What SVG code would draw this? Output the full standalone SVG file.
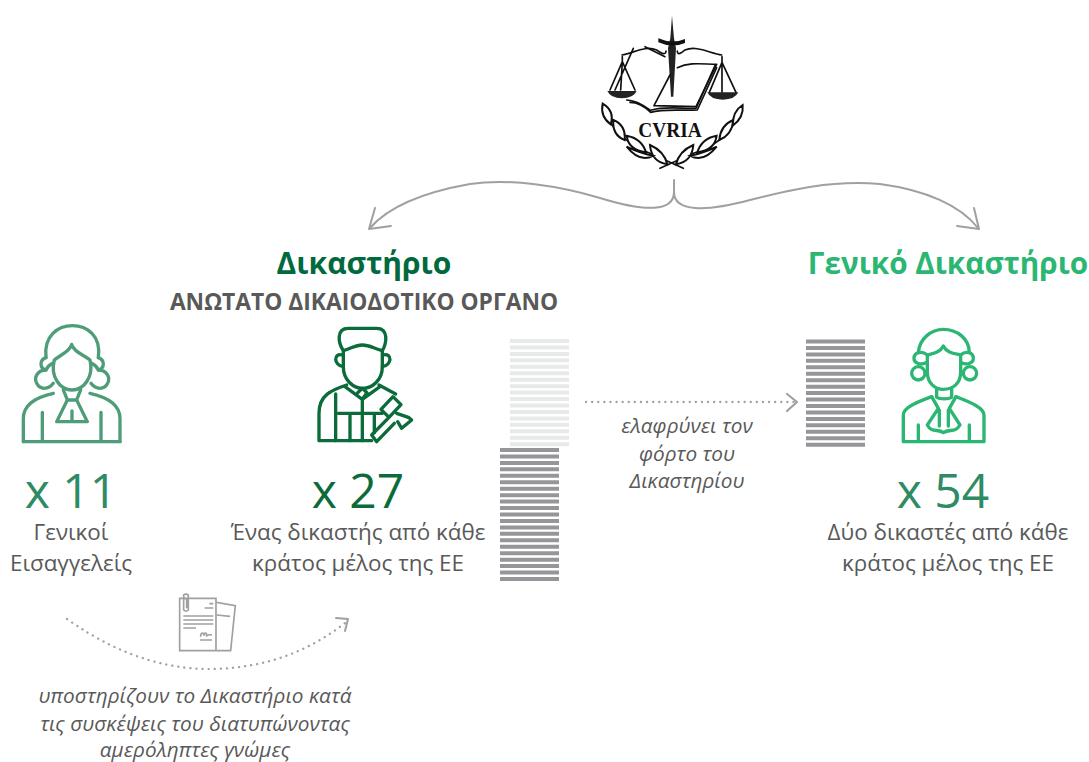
<svg xmlns="http://www.w3.org/2000/svg" width="1089" height="762" viewBox="0 0 1089 762">
<style>
text{font-family:"Open Sans","Noto Sans","DejaVu Sans",sans-serif;text-anchor:middle;fill:#595959}
.lab{font-size:22.400px}
.it{font-size:20.800px;font-style:italic}
.num{font-size:48px}
.ic{fill:none;stroke-width:10;stroke-linecap:round;stroke-linejoin:round}
.cr{fill:none;stroke:#111;stroke-width:5;stroke-linejoin:round;stroke-linecap:round}
.gr{fill:none;stroke:#a0a0a0;stroke-linecap:round;stroke-linejoin:round}
.dot{fill:none;stroke:#a0a0a0;stroke-width:2.300;stroke-dasharray:.1 6;stroke-linecap:round}
</style>
<rect width="1089" height="762" fill="#fff"/>
<g id="curia" transform="translate(590 5) scale(.3333)">
<path d="M246 32L252 100L258 130L250 275H243L234 130L241 100Z" fill="#222"/>
<path d="M205 100Q245 118 285 102L285 114Q245 130 205 112Z" fill="#111"/>
<path class="cr" stroke-width="6" d="M96 150C130 145 165 120 200 135Q228 155 228 138M395 150C360 145 320 120 285 135Q262 155 262 138"/>
<path class="cr" d="M165 125L225 155M97 155V170L60 255M97 170L135 255M97 170L92 255M130 130L75 255"/>
<path d="M52 258H140Q130 280 96 280Q62 280 52 258Z" fill="#222"/>
<path class="cr" d="M396 155V172L358 262M396 172L438 262M396 172V262"/>
<path d="M352 262H445Q435 284 398 284Q362 284 352 262Z" fill="#222"/>
<path class="cr" d="M262 188C300 170 340 178 380 178L318 305L192 302L240 210"/>
<path class="cr" d="M110 285C135 285 160 300 182 316C225 302 280 312 318 310L375 182M120 292C145 292 165 305 182 322C225 310 280 318 322 315L380 188"/>
<text x="240" y="395" textLength="190" lengthAdjust="spacingAndGlyphs" style="font-family:'Liberation Serif',serif;font-size:62px;font-weight:700;fill:#111">CVRIA</text>
<path class="cr" d="M40 300C50 360 110 420 180 445L280 490M455 305C440 370 380 425 310 445L210 490"/>
<path d="M38 296Q75 318 62 358Q30 335 38 296ZM70 345Q108 360 104 405Q66 390 70 345ZM110 392Q155 400 168 442Q115 435 110 392ZM180 420Q222 438 232 478Q184 470 180 420ZM110 425Q150 445 190 452Q150 475 110 425ZM458 300Q428 318 428 362Q462 338 458 300ZM430 345Q392 360 388 405Q426 390 430 345ZM380 392Q335 400 322 442Q375 435 380 392ZM310 420Q268 438 258 478Q306 470 310 420ZM380 425Q340 445 300 452Q340 475 380 425Z" fill="#fff" stroke="#111" stroke-width="6"/>
</g>
<g id="connectors">
<path class="gr" stroke-width="2" d="M674 180V192C674 212 645 212 600 198C560 186 510 178 470 184C425 192 390 205 370 228"/>
<path class="gr" stroke-width="2" d="M674 192C674 212 705 212 750 200C790 190 830 180 880 184C925 190 960 205 978 228"/>
<path class="gr" stroke-width="2" d="M375 208L369 229L391 226M957 226L979 229L974 208"/>
<path class="dot" d="M586 402H794"/>
<path class="gr" stroke-width="2.200" d="M787 394L797 402L787 411"/>
<path class="dot" d="M67 619C125 660 175 670 215 669C270 667 310 650 345 623"/>
<path class="gr" stroke-width="2" d="M336 618L348 619L345 631"/>
</g>
<g id="doc-stacks">
<path d="M539.500 339V447" stroke="#e8e9e9" stroke-width="59" stroke-dasharray="4 2.450" fill="none"/>
<path d="M529.500 448V582" stroke="#96969a" stroke-width="59" stroke-dasharray="4 2.450" fill="none"/>
<path d="M835.500 339.500V447" stroke="#96969a" stroke-width="59" stroke-dasharray="4 2.450" fill="none"/>
</g>
<g id="advocates">
<g transform="translate(10 315) scale(.3333)" class="ic" stroke="#4f9d78">
<path d="M108 128C100 62 145 32 187 32C230 32 275 62 265 128"/>
<path d="M108 128C88 135 88 160 108 165C85 165 70 185 80 205C90 225 115 225 130 205M265 128C285 135 285 160 265 165C288 165 303 185 293 205C283 225 258 225 243 205"/>
<path d="M185 88C180 110 150 120 133 135C120 185 150 225 186 225C222 225 252 185 240 135C222 120 190 110 185 88Z"/>
<path d="M128 145C118 150 112 155 108 165M245 145C255 150 261 155 265 165"/>
<path d="M40 380V310C40 265 85 245 130 235M330 380V310C330 265 285 245 240 235"/>
<path d="M40 380H330M97 292V375M273 292V375"/>
<path d="M160 225L172 255H200L212 225M172 255L140 320H232L200 255M186 288V318"/>
</g>
<text class="num" x="71" y="508" style="fill:#2e8b63">x 11</text>
<text class="lab" x="71" y="540">Γενικοί</text>
<text class="lab" x="71" y="571">Εισαγγελείς</text>
</g>
<g id="court-judges">
<text x="364" y="274" style="font-size:30px;font-weight:700;fill:#00693e">Δικαστήριο</text>
<text x="364" y="310" style="font-size:22.800px;font-weight:700">ΑΝΩΤΑΤΟ ΔΙΚΑΙΟΔΟΤΙΚΟ ΟΡΓΑΝΟ</text>
<g transform="translate(305 320) scale(.3333)" class="ic" stroke="#0b6b3a">
<path d="M115 92C100 70 92 25 130 25H215C252 25 245 70 232 92C205 85 195 75 172 75C150 75 140 85 115 92Z"/>
<path d="M115 92V140C115 180 145 205 173 205C202 205 232 180 232 140V92"/>
<path d="M112 105C85 98 85 135 115 140M235 105C262 98 262 135 232 140"/>
<path d="M125 195C80 210 42 225 42 280V362H200M222 195L272 222"/>
<path d="M120 200L172 238L225 200M158 218L172 205L186 218L172 238V280M92 222V362M100 280H232M135 280V362M172 280V362M208 280V338"/>
<path d="M228 268L264 230L288 254L252 292ZM275 280L312 293L320 300L290 325L278 305M252 292L200 345L215 365L268 310"/>
</g>
<text class="num" x="358" y="508" style="fill:#0b6b3a">x 27</text>
<text class="lab" x="358" y="540">Ένας δικαστής από κάθε</text>
<text class="lab" x="358" y="571">κράτος μέλος της ΕΕ</text>
</g>
<g id="general-court">
<text x="948" y="274" style="font-size:29.700px;font-weight:700;fill:#2bb673">Γενικό Δικαστήριο</text>
<g transform="translate(890 320) scale(.3333)" class="ic" stroke="#2bb673">
<path d="M85 98C88 55 125 28 160 28C200 28 238 55 238 98"/>
<path d="M112 105C95 90 72 98 72 115C72 132 95 135 108 128M212 105C228 90 250 98 250 115C250 132 228 135 214 128"/>
<circle cx="85" cy="160" r="20"/><circle cx="240" cy="160" r="20"/>
<path d="M160 78C150 98 130 100 112 105V155C112 190 135 208 160 208C190 208 212 190 212 155V105C190 100 170 98 160 78Z"/>
<path d="M140 208V232C150 238 175 238 185 232V208M40 365V285C40 262 85 245 125 230M282 365V285C282 262 235 245 198 230M40 365H282M85 315V362M238 315V362"/>
<path d="M125 230L145 265L112 315C125 340 145 325 160 338C178 325 195 340 210 315L178 265L198 230M148 270V318M175 270V318"/>
</g>
<text class="num" x="943" y="508" style="fill:#2e8b63">x 54</text>
<text class="lab" x="948" y="540">Δύο δικαστές από κάθε</text>
<text class="lab" x="948" y="571">κράτος μέλος της ΕΕ</text>
</g>
<g id="relief-note">
<text class="it" x="687" y="433">ελαφρύνει τον</text>
<text class="it" x="687" y="461">φόρτο του</text>
<text class="it" x="687" y="488">Δικαστηρίου</text>
</g>
<g id="document" transform="translate(50 585) scale(.3333)" fill="none" stroke="#a0a0a0" stroke-width="5">
<path d="M389 40H498V197H389Z"/>
<path d="M500 52L556 62L542 197H500M500 90L540 94"/>
<path d="M401 47V30Q408 25 415 30V75Q408 82 401 75V42Q406 38 410 42V70"/>
<path d="M478 56H490M464 69H490M400 93H490M400 105H490M400 117H490M400 129H438M450 165H486"/>
<path d="M452 155C452 140 462 142 462 152C462 142 470 142 470 152C474 150 480 148 486 150"/>
</g>
<g id="support-note">
<text class="it" x="195" y="703">υποστηρίζουν το Δικαστήριο κατά</text>
<text class="it" x="195" y="731">τις συσκέψεις του διατυπώνοντας</text>
<text class="it" x="195" y="757">αμερόληπτες γνώμες</text>
</g>
</svg>
